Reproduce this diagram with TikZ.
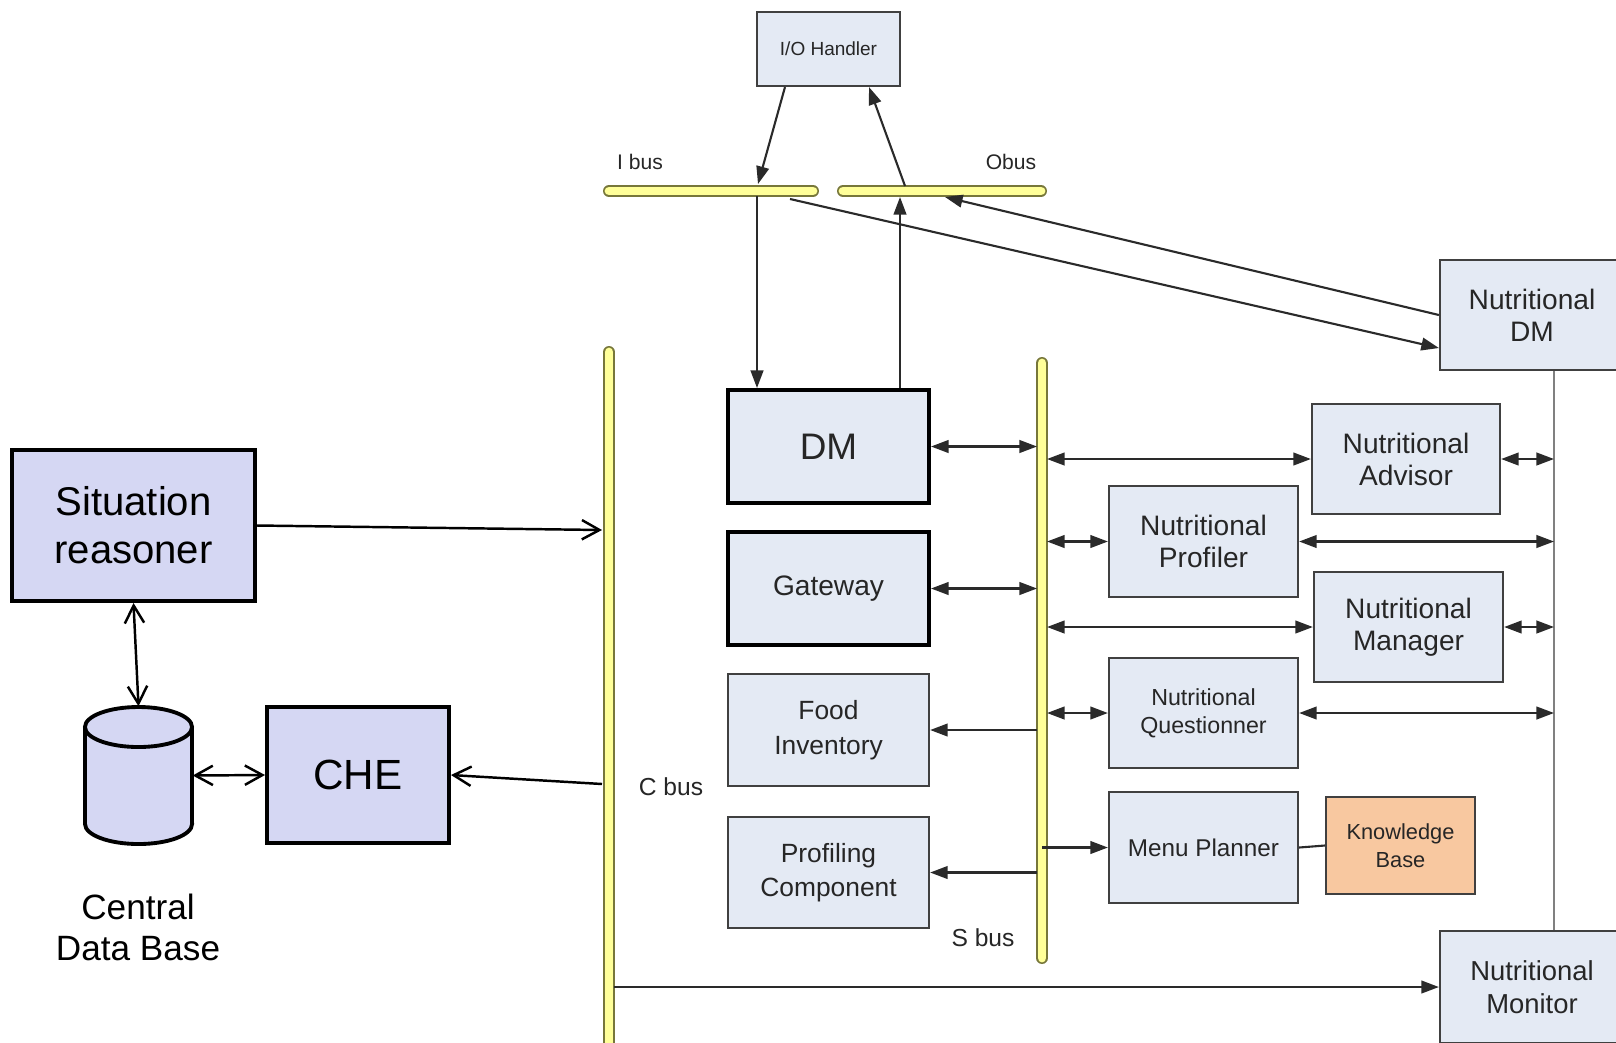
\documentclass[tikz,border=0pt]{standalone}
\usepackage{fontspec}
\setmainfont{Liberation Sans}
\usetikzlibrary{arrows.meta,positioning}

\definecolor{boxfill}{HTML}{E4EAF4}
\definecolor{lavender}{HTML}{D5D7F3}
\definecolor{busyellow}{HTML}{FFFF99}
\definecolor{busedge}{HTML}{77773A}
\definecolor{kbfill}{HTML}{F8C8A0}
\definecolor{wire}{HTML}{2A2A2A}

\tikzset{
  box/.style={draw=black!75, line width=0.6pt, fill=boxfill, inner sep=0pt,
    align=center, text=black!85},
  mainbox/.style={box, draw=black, line width=1.1pt},
  lavbox/.style={draw=black, line width=1.1pt, fill=lavender, inner sep=0pt, align=center},
  bus/.style={draw=busedge, line width=0.45pt, double=busyellow, double distance=2.5pt,
    line cap=round},
  arr/.style={draw=wire, line width=0.6pt, -{Triangle[length=5pt,width=3.6pt]}},
  darr/.style={arr, {Triangle[length=5pt,width=3.6pt]}-{Triangle[length=5pt,width=3.6pt]}},
  oarr/.style={draw=black, line width=0.7pt, -{Straight Barb[length=5pt,width=5.5pt]}},
  doarr/.style={oarr, {Straight Barb[length=5pt,width=5.5pt]}-{Straight Barb[length=5pt,width=5.5pt]}},
  buslabel/.style={text=black!85, inner sep=0pt}
}

\begin{document}
\begin{tikzpicture}[x=0.01cm, y=-0.01cm]
  \useasboundingbox (0,0) rectangle (1616,1042);

  % Buses
  \draw[bus] (609,191) -- (813,191);
  \draw[bus] (843,191) -- (1041,191);
  \draw[bus] (609,352) -- (609,1060);
  \draw[bus] (1042,363) -- (1042,958);

  % Points on the buses
  \coordinate (ibdown) at (757,196);
  \coordinate (ibin) at (758,184);
  \coordinate (ibout) at (790,199);
  \coordinate (obup) at (900,197);
  \coordinate (obtop) at (905,186);
  \coordinate (obin) at (945,197);
  \coordinate (cbin) at (602,530);
  \coordinate (cbout) at (602,784);
  \coordinate (cbR) at (614,0);
  \coordinate (sbL) at (1037,0);
  \coordinate (sbC) at (1042,0);
  \coordinate (sbR) at (1047,0);
  \coordinate (rl) at (1554,0);

  % Bus labels
  \node[buslabel, font=\fontsize{6}{7}\selectfont] (iblabel) at (640,162) {I bus};
  \node[buslabel, font=\fontsize{6}{7}\selectfont] (oblabel) at (1011,162) {Obus};
  \node[buslabel, font=\fontsize{7}{8}\selectfont] (cblabel) at (671,787) {C bus};
  \node[buslabel, font=\fontsize{7}{8}\selectfont] (sblabel) at (983,938) {S bus};

  % Middle column
  \node[box, minimum width=1.43cm, minimum height=0.74cm, font=\fontsize{5.4}{6.4}\selectfont]
    (io) at (828.5,49) {I/O Handler};
  \node[mainbox, minimum width=2.01cm, minimum height=1.13cm, font=\fontsize{10.5}{12}\selectfont]
    (dm) at (828.5,446.5) {DM};
  \node[mainbox, minimum width=2.01cm, minimum height=1.13cm, font=\fontsize{8}{9.5}\selectfont]
    (gw) at (828.5,588.5) {Gateway};
  \node[box, minimum width=2.01cm, minimum height=1.12cm, font=\fontsize{7.5}{9.8}\selectfont]
    (food) at (828.5,730) {Food\\Inventory};
  \node[box, minimum width=2.01cm, minimum height=1.11cm, font=\fontsize{7.5}{9.6}\selectfont]
    (prof) at (828.5,872.5) {Profiling\\Component};

  % Right column
  \node[box, minimum width=1.88cm, minimum height=1.10cm, font=\fontsize{8}{9.1}\selectfont]
    (nadv) at (1406,459) {Nutritional\\Advisor};
  \node[box, minimum width=1.89cm, minimum height=1.11cm, font=\fontsize{8}{9.1}\selectfont]
    (nprof) at (1203.5,541.5) {Nutritional\\Profiler};
  \node[box, minimum width=1.89cm, minimum height=1.10cm, font=\fontsize{8}{9.1}\selectfont]
    (nman) at (1408.5,627) {Nutritional\\Manager};
  \node[box, minimum width=1.89cm, minimum height=1.10cm, font=\fontsize{6.6}{8}\selectfont]
    (nques) at (1203.5,713) {Nutritional\\Questionner};
  \node[box, minimum width=1.89cm, minimum height=1.11cm, font=\fontsize{6.9}{8}\selectfont]
    (menu) at (1203.5,847.5) {Menu Planner};
  \node[box, fill=kbfill, minimum width=1.49cm, minimum height=0.97cm, font=\fontsize{6.2}{8}\selectfont]
    (kb) at (1400.5,845.5) {Knowledge\\Base};
  \node[box, minimum width=1.84cm, minimum height=1.10cm, font=\fontsize{8}{9.2}\selectfont]
    (ndm) at (1532,315) {Nutritional\\DM};
  \node[box, minimum width=1.84cm, minimum height=1.12cm, font=\fontsize{7.8}{9.3}\selectfont]
    (nmon) at (1532,987) {Nutritional\\Monitor};

  % Left part
  \node[lavbox, minimum width=2.43cm, minimum height=1.51cm, font=\fontsize{11.4}{13.7}\selectfont]
    (sr) at (133.5,525.5) {Situation\\reasoner};
  \node[lavbox, minimum width=1.82cm, minimum height=1.36cm, font=\fontsize{12}{14}\selectfont]
    (che) at (358,775) {CHE};
  \node[minimum width=1.07cm, minimum height=1.37cm, inner sep=0pt] (cdb) at (138.5,775.5) {};
  \fill[lavender] (85,727) -- (85,824) arc[start angle=180, end angle=360,
    x radius=0.535cm, y radius=0.2cm] -- (192,727) -- cycle;
  \draw[black, line width=1.1pt] (85,727) -- (85,824) arc[start angle=180, end angle=360,
    x radius=0.535cm, y radius=0.2cm] -- (192,727);
  \draw[black, line width=1.1pt, fill=lavender] (138.5,727) ellipse[x radius=0.535cm, y radius=0.2cm];
  \node[align=center, font=\fontsize{10}{11.7}\selectfont] (cdblabel) at (138,927) {Central\\Data Base};

  % Left connectors
  \draw[oarr] (sr.east) -- (cbin);
  \draw[doarr] (sr.south) -- (cdb.north);
  \draw[doarr] (cdb.east) -- (che.west);
  \draw[oarr] (cbout) -- (che.east);

  % I/O connectors
  \draw[arr] ([xshift=-0.435cm]io.south) -- (ibin);
  \draw[arr] (obtop) -- ([xshift=0.405cm]io.south);
  \draw[arr] (ibdown) -- (ibdown |- dm.north);
  \draw[arr] (dm.north -| obup) -- (obup);
  \draw[arr] (ibout) -- ([yshift=-0.33cm]ndm.west);
  \draw[arr] (ndm.west) -- (obin);

  % S bus connectors
  \draw[darr] (dm.east) -- (dm.east -| sbL);
  \draw[darr] (gw.east) -- (gw.east -| sbL);
  \draw[arr] (food.east -| sbL) -- (food.east);
  \draw[arr] (prof.east -| sbL) -- (prof.east);
  \draw[darr] (nadv.west -| sbR) -- (nadv.west);
  \draw[darr] (nprof.west -| sbR) -- (nprof.west);
  \draw[darr] (nman.west -| sbR) -- (nman.west);
  \draw[darr] (nques.west -| sbR) -- (nques.west);
  \draw[arr] (menu.west -| sbC) -- (menu.west);
  \draw[wire, line width=0.6pt] (menu.east) -- (kb.west);

  % Right line
  \draw[black!50, line width=0.7pt] (ndm.south -| rl) -- (nmon.north -| rl);
  \draw[darr] (nadv.east) -- (nadv.east -| rl);
  \draw[darr] (nprof.east) -- (nprof.east -| rl);
  \draw[darr] (nman.east) -- (nman.east -| rl);
  \draw[darr] (nques.east) -- (nques.east -| rl);

  % C bus to monitor
  \draw[arr] (nmon.west -| cbR) -- (nmon.west);

\end{tikzpicture}
\end{document}
